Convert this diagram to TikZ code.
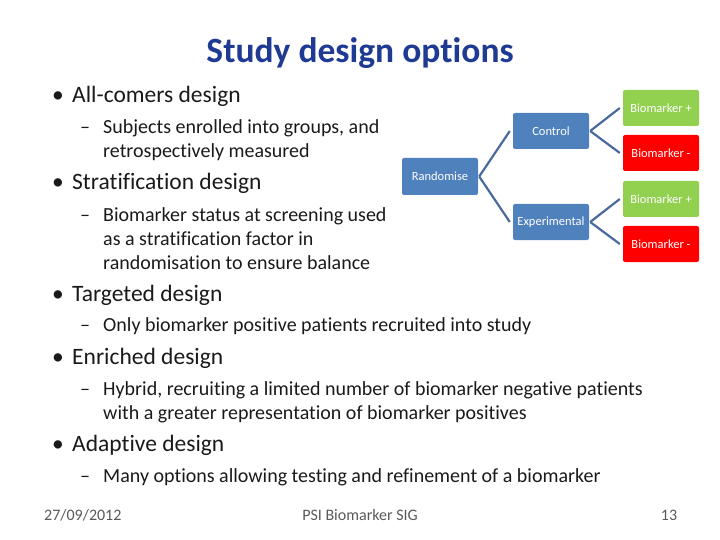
\documentclass[tikz,border=0pt]{standalone}
\usepackage{fontspec}
\setmainfont[Ligatures=NoCommon]{Carlito}
\definecolor{tblue}{HTML}{1F3A93}
\definecolor{bbox}{HTML}{4F81BD}
\definecolor{bline}{HTML}{4A6A9E}
\definecolor{gbox}{HTML}{92D050}
\definecolor{rbox}{HTML}{FF0000}
\definecolor{txt}{HTML}{1A1A1A}
\definecolor{foot}{HTML}{595959}
\newcommand{\bul}{\makebox[20pt][l]{•}}
\newcommand{\dsh}{\makebox[23pt][l]{–}}
\newcommand{\ind}{\hspace*{23pt}}
\begin{document}
\begin{tikzpicture}[x=1pt,y=-1pt,
  lvl1/.style={anchor=west,font=\fontsize{23.5}{28}\selectfont,text=txt,inner sep=0},
  lvl2/.style={anchor=north west,font=\fontsize{20}{24}\selectfont,text=txt,inner sep=0,align=left},
  box/.style={fill=#1,rounded corners=2pt,text=white,font=\fontsize{12.5}{14}\selectfont,inner sep=0},
  conn/.style={draw=bline,line width=2.2pt}]
\useasboundingbox (0,0) rectangle (720,540);
\node[font=\bfseries\fontsize{35.5}{40}\selectfont,text=tblue] (title) at (360,53) {Study design options};
% bullets
\node[lvl1] (b1) at (52,96) {\bul All-comers design};
\node[lvl2] (s1) at (80,119) {\dsh Subjects enrolled into groups, and\\\ind retrospectively measured};
\node[lvl1] (b2) at (52,183) {\bul Stratification design};
\node[lvl2] (s2) at (80,207) {\dsh Biomarker status at screening used\\\ind as a stratification factor in\\\ind randomisation to ensure balance};
\node[lvl1] (b3) at (52,295) {\bul Targeted design};
\node[lvl2] (s3) at (80,317) {\dsh Only biomarker positive patients recruited into study};
\node[lvl1] (b4) at (52,358) {\bul Enriched design};
\node[lvl2] (s4) at (80,381) {\dsh Hybrid, recruiting a limited number of biomarker negative patients\\\ind with a greater representation of biomarker positives};
\node[lvl1] (b5) at (52,445) {\bul Adaptive design};
\node[lvl2] (s5) at (80,468) {\dsh Many options allowing testing and refinement of a biomarker};
% footer
\node[font=\fontsize{16}{18}\selectfont,text=foot,anchor=west,inner sep=0] (f1) at (44,515) {27/09/2012};
\node[font=\fontsize{16}{18}\selectfont,text=foot] (f2) at (360,515) {PSI Biomarker SIG};
\node[font=\fontsize{16}{18}\selectfont,text=foot] (f3) at (669,515) {13};
% tree
\node[box=bbox,minimum width=76pt,minimum height=37pt] (r) at (440,176.5) {Randomise};
\node[box=bbox,minimum width=76pt,minimum height=36pt] (c) at (551,131) {Control};
\node[box=bbox,minimum width=76pt,minimum height=36pt] (e) at (551,222) {Experimental};
\node[box=gbox,minimum width=76pt,minimum height=36pt] (g1) at (661,108) {Biomarker +};
\node[box=rbox,minimum width=76pt,minimum height=36pt] (r1) at (661,153) {Biomarker -};
\node[box=gbox,minimum width=76pt,minimum height=36pt] (g2) at (661,199) {Biomarker +};
\node[box=rbox,minimum width=76pt,minimum height=36pt] (r2) at (661,244) {Biomarker -};
\draw[conn] ([xshift=1pt]r.east) -- ([xshift=-3pt]c.west);
\draw[conn] ([xshift=1pt]r.east) -- ([xshift=-3pt]e.west);
\draw[conn] ([xshift=1pt]c.east) -- ([xshift=-3pt]g1.west);
\draw[conn] ([xshift=1pt]c.east) -- ([xshift=-3pt]r1.west);
\draw[conn] ([xshift=1pt]e.east) -- ([xshift=-3pt]g2.west);
\draw[conn] ([xshift=1pt]e.east) -- ([xshift=-3pt]r2.west);
\end{tikzpicture}
\end{document}
